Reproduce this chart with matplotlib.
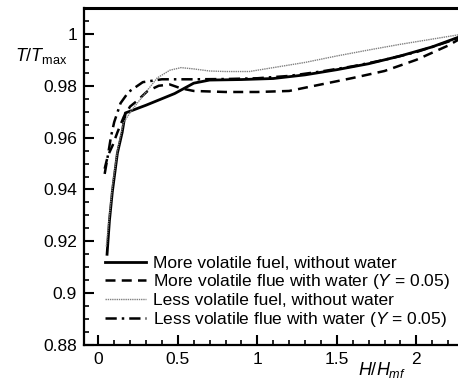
import matplotlib
matplotlib.use("Agg")
import matplotlib.pyplot as plt
from matplotlib.ticker import MultipleLocator, FuncFormatter

plt.rcParams['font.family'] = ['Liberation Sans', 'DejaVu Sans']
plt.rcParams['mathtext.fontset'] = 'custom'
plt.rcParams['mathtext.rm'] = 'Liberation Sans'
plt.rcParams['mathtext.it'] = 'Liberation Sans:italic'
plt.rcParams['mathtext.bf'] = 'Liberation Sans:bold'

# Data
x_mv_dry = [0.055, 0.07, 0.088, 0.12, 0.15, 0.17, 0.3, 0.48, 0.6, 0.7, 0.9, 1.1, 1.3, 1.5, 1.7, 1.9, 2.1, 2.3]
y_mv_dry = [0.915, 0.928, 0.939, 0.954, 0.962, 0.9695, 0.9725, 0.977, 0.981, 0.9822, 0.9824, 0.9828, 0.9842, 0.9862, 0.9885, 0.9915, 0.995, 0.9995]

x_mv_wet = [0.04, 0.06, 0.09, 0.12, 0.16, 0.2, 0.25, 0.31, 0.38, 0.45, 0.52, 0.6, 0.8, 1.0, 1.2, 1.4, 1.6, 1.8, 2.0, 2.2, 2.3]
y_mv_wet = [0.948, 0.953, 0.957, 0.962, 0.968, 0.972, 0.9745, 0.978, 0.980, 0.9805, 0.979, 0.978, 0.9776, 0.9776, 0.978, 0.9805, 0.983, 0.9857, 0.990, 0.9955, 0.999]

x_lv_dry = [0.05, 0.07, 0.09, 0.12, 0.157, 0.21, 0.28, 0.37, 0.45, 0.52, 0.6, 0.7, 0.8, 0.95, 1.1, 1.3, 1.5, 1.7, 1.9, 2.1, 2.3]
y_lv_dry = [0.918, 0.93, 0.942, 0.955, 0.9656, 0.9706, 0.976, 0.983, 0.986, 0.987, 0.9865, 0.9857, 0.9855, 0.9855, 0.987, 0.989, 0.9915, 0.9938, 0.996, 0.998, 1.0]

x_lv_wet = [0.04, 0.06, 0.08, 0.1, 0.14, 0.19, 0.28, 0.4, 0.6, 0.8, 1.0, 1.2, 1.4, 1.6, 1.8, 2.0, 2.2, 2.3]
y_lv_wet = [0.946, 0.953, 0.9605, 0.966, 0.9733, 0.9776, 0.9814, 0.9825, 0.9825, 0.9826, 0.9829, 0.9838, 0.9855, 0.9875, 0.990, 0.993, 0.997, 0.9995]

labels = [
    "More volatile fuel, without water",
    "More volatile flue with water ($Y$ = 0.05)",
    "Less volatile fuel, without water",
    "Less volatile flue with water ($Y$ = 0.05)",
]
x_ticks = [0, 0.5, 1, 1.5, 2]
y_ticks = [0.88, 0.9, 0.92, 0.94, 0.96, 0.98, 1]

W, H = 458, 383
fig = plt.figure(figsize=(W / 100, H / 100), dpi=100)
ax = fig.add_axes([84 / W, (H - 345) / H, (464 - 84) / W, (345 - 8) / H])

ax.plot(x_mv_dry, y_mv_dry, color='black', lw=2.0, ls='-', label=labels[0])
ax.plot(x_mv_wet, y_mv_wet, color='black', lw=1.8, ls=(0, (4, 2.5)), label=labels[1])
ax.plot(x_lv_dry, y_lv_dry, color='#808080', lw=1.0, ls=(0, (1, 0.6)), label=labels[2])
ax.plot(x_lv_wet, y_lv_wet, color='black', lw=1.8, ls=(0, (4.5, 2, 1, 2)), label=labels[3])

ax.set_xlim(-0.09, 2.3)
ax.set_ylim(0.88, 1.01)
ax.set_xticks(x_ticks)
ax.set_yticks(y_ticks)
fmt = FuncFormatter(lambda v, p: '%g' % round(v, 4))
ax.xaxis.set_major_formatter(fmt)
ax.yaxis.set_major_formatter(fmt)
ax.xaxis.set_minor_locator(MultipleLocator(0.1))
ax.yaxis.set_minor_locator(MultipleLocator(0.005))
ax.tick_params(which='both', direction='in', top=False, right=False, labelsize=12.5, width=1.5, pad=5)
ax.tick_params(which='major', length=7)
ax.tick_params(which='minor', length=3.5, width=1.2)
for s in ['left', 'bottom']:
    ax.spines[s].set_linewidth(1.6)
ax.spines['top'].set_linewidth(2.2)
ax.spines['right'].set_visible(False)

leg = ax.legend(loc='lower left', bbox_to_anchor=((105 - 84) / 380, (345 - 329) / 337),
                frameon=False, fontsize=12.5, borderpad=0, borderaxespad=0,
                handlelength=2.35, handletextpad=0.4, labelspacing=0.1)

fig.text(15 / W, 1 - 56 / H, r'$T/T_{\rm max}$', fontsize=13, va='center', ha='left')
fig.text(382 / W, 1 - 370 / H, r'$H/H_{mf}$', fontsize=13, va='center', ha='center')

fig.savefig('out.png', dpi=100)
